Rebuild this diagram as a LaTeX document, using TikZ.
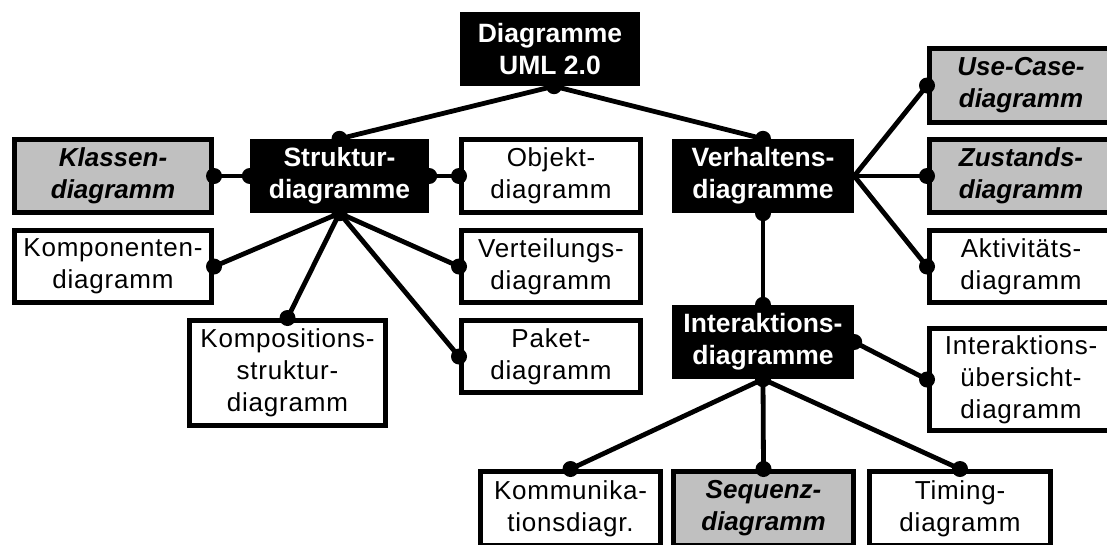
\documentclass[tikz,border=0pt]{standalone}
\usepackage{fontspec}
\setmainfont{Liberation Sans}
\definecolor{boxgray}{RGB}{192,192,192}
\begin{document}
\begin{tikzpicture}[x=1pt,y=-1pt,
  base/.style={rectangle, inner sep=0pt, align=center, font=\fontsize{26}{32}\selectfont\addfontfeatures{LetterSpace=3}},
  blk/.style={base, fill=black, text=white, font=\fontsize{26.5}{32}\selectfont\bfseries},
  wht/.style={base, draw=black, line width=5pt, fill=white},
  gry/.style={base, draw=black, line width=5pt, fill=boxgray, font=\fontsize{26}{32}\selectfont\bfseries\itshape},
  conn/.style={line width=4.8pt}]
\clip (0,0) rectangle (1107,544);
\fill[white] (0,0) rectangle (1107,544);
% black nodes
\node[blk, minimum width=180pt, minimum height=74pt] (uml) at (550,49) {Diagramme\\UML 2.0};
\node[blk, minimum width=179pt, minimum height=74pt] (struk) at (339.5,176) {Struktur-\\diagramme};
\node[blk, minimum width=182pt, minimum height=74pt] (verh) at (763,176) {Verhaltens-\\diagramme};
\node[blk, minimum width=182pt, minimum height=74pt] (inter) at (763,342) {Interaktions-\\diagramme};
% structure diagrams
\node[gry, minimum width=197pt, minimum height=73pt] (klassen) at (113,176) {Klassen-\\diagramm};
\node[wht, minimum width=179pt, minimum height=73pt] (objekt) at (551,176) {Objekt-\\diagramm};
\node[wht, minimum width=197pt, minimum height=72pt] (komp) at (113,266.5) {Komponenten-\\diagramm};
\node[wht, minimum width=179pt, minimum height=72pt] (vert) at (551,266.5) {Verteilungs-\\diagramm};
\node[wht, minimum width=179pt, minimum height=72pt] (paket) at (551,356.5) {Paket-\\diagramm};
\node[wht, minimum width=196pt, minimum height=105pt] (kompos) at (287.5,373) {Kompositions-\\struktur-\\diagramm};
% behaviour diagrams
\node[gry, minimum width=183pt, minimum height=74pt] (usecase) at (1021,85.5) {Use-Case-\\diagramm};
\node[gry, minimum width=183pt, minimum height=73pt] (zust) at (1021,176) {Zustands-\\diagramm};
\node[wht, minimum width=183pt, minimum height=72pt] (aktiv) at (1021,266.5) {Aktivitäts-\\diagramm};
\node[wht, minimum width=183pt, minimum height=102pt] (uebers) at (1021,379.5) {Interaktions-\\übersicht-\\diagramm};
% interaction diagrams
\node[wht, minimum width=180pt, minimum height=74pt] (kommun) at (570.5,508.5) {Kommunika-\\tionsdiagr.};
\node[gry, minimum width=180pt, minimum height=74pt] (seq) at (763.5,508.5) {Sequenz-\\diagramm};
\node[wht, minimum width=181pt, minimum height=74pt] (timing) at (960,508.5) {Timing-\\diagramm};
% connectors
\coordinate (umlb) at ([xshift=4pt]uml.south);
\draw[conn] (umlb) -- (struk.north);
\draw[conn] (umlb) -- (verh.north);
\draw[conn] (struk.west) -- (klassen.east);
\draw[conn] (struk.east) -- (objekt.west);
\draw[conn] (struk.south) -- (komp.east);
\draw[conn] (struk.south) -- (kompos.north);
\draw[conn] (struk.south) -- (vert.west);
\draw[conn] (struk.south) -- (paket.west);
\draw[conn] (verh.east) -- (usecase.west);
\draw[conn] (verh.east) -- (zust.west);
\draw[conn] (verh.east) -- (aktiv.west);
\draw[conn] (verh.south) -- (inter.north);
\draw[conn] (inter.east) -- (uebers.west);
\draw[conn] (inter.south) -- (kommun.north);
\draw[conn] (inter.south) -- (seq.north);
\draw[conn] (inter.south) -- (timing.north);
% connector end dots
\foreach \p in {umlb, struk.north, verh.north, struk.west, klassen.east, struk.east, objekt.west,
  struk.south, komp.east, kompos.north, vert.west, paket.west,
  usecase.west, zust.west, aktiv.west, verh.south, inter.north, inter.east, uebers.west,
  inter.south, kommun.north, seq.north, timing.north}
  \fill (\p) circle (8);
\end{tikzpicture}
\end{document}
